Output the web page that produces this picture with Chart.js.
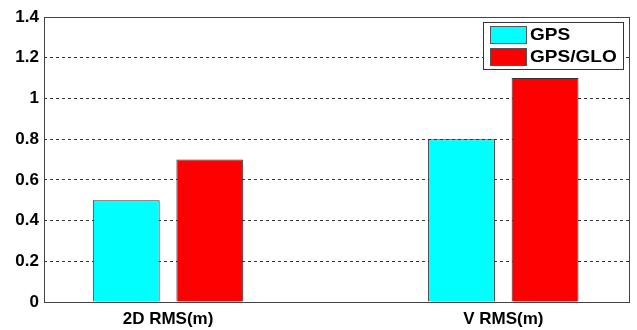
<!DOCTYPE html>
<html>
<head>
<meta charset="utf-8">
<script src="https://cdn.jsdelivr.net/npm/chart.js@4/dist/chart.umd.min.js"></script>
<style>
  html, body { margin: 0; padding: 0; background: #fff; }
  #wrap { width: 637px; height: 330px; }
</style>
</head>
<body>
<div id="wrap"><canvas id="rmsChart"></canvas></div>
<script>
// RMS error, GPS only vs GPS+GLONASS
const categories = ['2D RMS(m)', 'V RMS(m)'];
const gpsRms = [0.5, 0.8];
const gpsGloRms = [0.7, 1.1];
const yTicks = [0, 0.2, 0.4, 0.6, 0.8, 1, 1.2, 1.4];

const FONT = '"Liberation Sans", Arial, sans-serif';

// categories sit at x = 1, 2 on a linear axis
const toPoints = vals => vals.map((v, i) => ({ x: i + 1, y: v }));

// box around the plot area
const frame = {
  id: 'frame',
  afterDraw(chart) {
    const { ctx, chartArea: a } = chart;
    ctx.save();
    ctx.strokeStyle = '#444';
    ctx.lineWidth = 1;
    ctx.strokeRect(Math.round(a.left) + 0.5, Math.round(a.top) + 0.5,
      Math.round(a.right - a.left), Math.round(a.bottom - a.top));
    ctx.restore();
  }
};

// boxed legend in the upper right corner
const boxLegend = {
  id: 'boxLegend',
  afterDraw(chart) {
    const { ctx, chartArea: a } = chart;
    const w = 140, h = 47;
    const x = a.right - 6 - w, y = a.top + 5;
    ctx.save();
    ctx.fillStyle = '#fff';
    ctx.fillRect(x, y, w, h);
    ctx.strokeStyle = '#333';
    ctx.lineWidth = 1;
    ctx.strokeRect(x + 0.5, y + 0.5, w, h);
    ctx.font = 'bold 17px ' + FONT;
    ctx.textBaseline = 'middle';
    chart.data.datasets.forEach((ds, i) => {
      const sy = y + 4 + i * 22;
      ctx.fillStyle = ds.backgroundColor;
      ctx.fillRect(x + 7, sy, 36, 17);
      ctx.strokeStyle = '#555';
      ctx.strokeRect(x + 7.5, sy + 0.5, 36, 17);
      // label text is a little wider than the plain font
      ctx.save();
      ctx.translate(x + 47, sy + 9.5);
      ctx.scale(1.12, 1);
      ctx.fillStyle = '#000';
      ctx.fillText(ds.label, 0, 0);
      ctx.restore();
    });
    ctx.restore();
  }
};

new Chart(document.getElementById('rmsChart'), {
  type: 'bar',
  data: {
    datasets: [
      {
        label: 'GPS',
        data: toPoints(gpsRms),
        backgroundColor: '#00ffff',
        borderColor: '#333',
        borderWidth: 1
      },
      {
        label: 'GPS/GLO',
        data: toPoints(gpsGloRms),
        backgroundColor: '#ff0000',
        borderColor: '#333',
        borderWidth: 1
      }
    ]
  },
  options: {
    responsive: true,
    maintainAspectRatio: false,
    animation: false,
    categoryPercentage: 0.4985,
    barPercentage: 0.8,
    layout: { padding: { top: 17, right: 8, left: 0, bottom: 0 } },
    plugins: {
      legend: { display: false },
      tooltip: { enabled: false }
    },
    scales: {
      x: {
        type: 'linear',
        min: 0.63,
        max: 2.375,
        offset: false,
        grid: { display: false, drawTicks: false },
        border: { display: false },
        afterBuildTicks: s => { s.ticks = categories.map((c, i) => ({ value: i + 1 })); },
        afterFit: s => { s.height = 28; },
        ticks: {
          padding: 7,
          color: '#000',
          font: { family: FONT, size: 17, weight: 'bold' },
          callback: v => categories[v - 1]
        }
      },
      y: {
        min: 0,
        max: 1.4,
        afterBuildTicks: s => { s.ticks = yTicks.map(v => ({ value: v })); },
        afterFit: s => { s.width = 44; },
        border: { display: false, dash: [3, 3] },
        grid: {
          drawTicks: false,
          lineWidth: 1,
          color: c => (c.tick && (c.tick.value === 0 || c.tick.value === 1.4)) ? 'rgba(0,0,0,0)' : '#333'
        },
        ticks: {
          padding: 5,
          color: '#000',
          font: { family: FONT, size: 17, weight: 'bold' },
          callback: v => String(v)
        }
      }
    }
  },
  plugins: [frame, boxLegend]
});
</script>
</body>
</html>
